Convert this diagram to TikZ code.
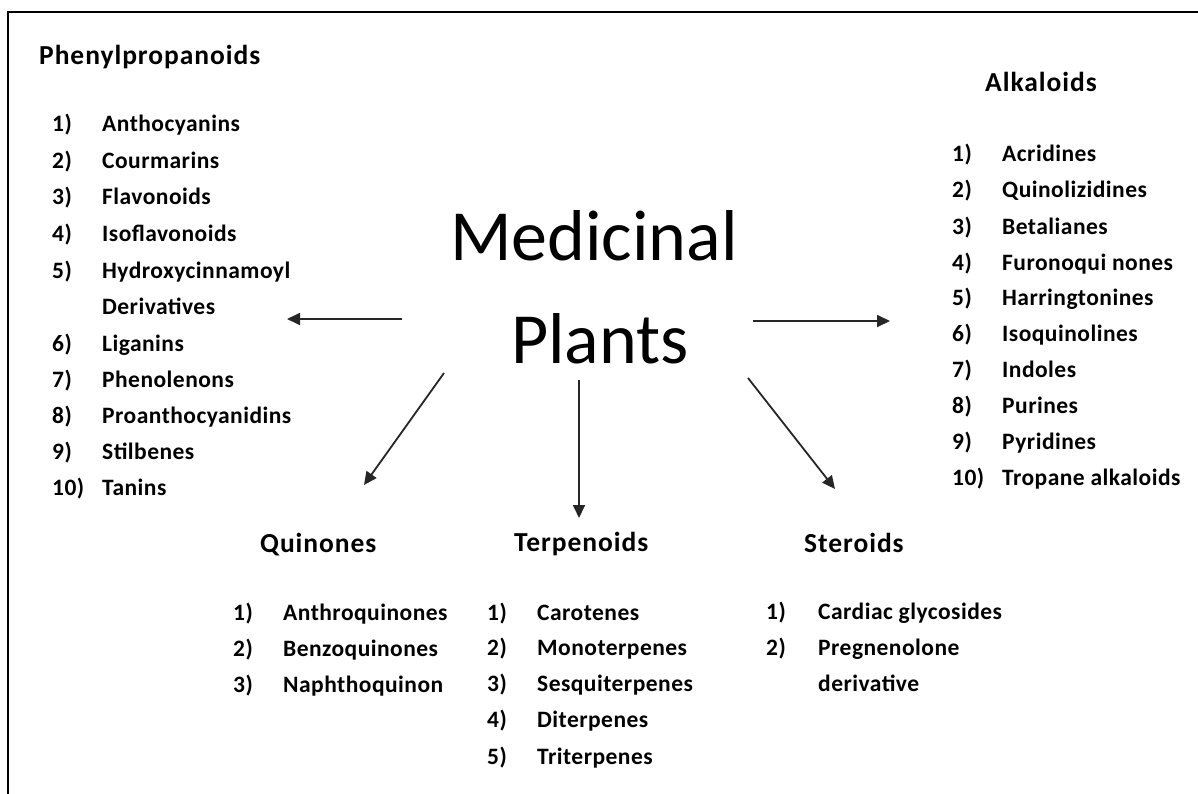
\documentclass[tikz,border=0pt]{standalone}
\usepackage{fontspec}
\setmainfont{Carlito}
\newfontfamily\headfont[LetterSpace=3.5]{Carlito}
\newfontfamily\itemfont[LetterSpace=2]{Carlito}
\usetikzlibrary{arrows.meta}
\begin{document}
\begin{tikzpicture}[x=1pt,y=-1pt,
  heading/.style={anchor=base west,inner sep=0pt,font=\headfont\bfseries\fontsize{27.5}{32}\selectfont},
  item/.style={anchor=base west,inner sep=0pt,font=\itemfont\bfseries\fontsize{23.5}{28}\selectfont},
  title/.style={anchor=base,inner sep=0pt,font=\fontsize{72}{80}\selectfont},
  arr/.style={draw=black!85,line width=1.8pt,-{Triangle[length=13pt,width=12pt]}},
  frame/.style={line width=2pt}]
\useasboundingbox (0,0) rectangle (1198,794);
% frame
\coordinate (fbl) at (8,794);
\coordinate (ftl) at (8,12);
\coordinate (ftr) at (1198,12);
\draw[frame] (fbl) -- (ftl) -- (ftr);

% centre title
\node[title] (med) at (594,260) {Medicinal};
\node[title] (pla) at (600,363) {Plants};

% headings
\node[heading] (hphen) at (39,65) {Phenylpropanoids};
\node[heading] (halk) at (985,92) {Alkaloids};
\node[heading] (hquin) at (260,552) {Quinones};
\node[heading] (hterp) at (514,551) {Terpenoids};
\node[heading] (hster) at (804,552) {Steroids};

% Phenylpropanoids list
\foreach \n/\t/\y [count=\i] in {1)/Anthocyanins/132, 2)/Courmarins/168.5, 3)/Flavonoids/205, 4)/Isoflavonoids/241.5, 5)/Hydroxycinnamoyl/278, 6)/Liganins/351, 7)/Phenolenons/387, 8)/Proanthocyanidins/423, 9)/Stilbenes/459, 10)/Tanins/495}{
  \node[item] (pn\i) at (52,\y) {\n};
  \node[item] (pt\i) at (102,\y) {\t};
}
\node[item] (pderiv) at (102,314.5) {Derivatives};

% Alkaloids list
\foreach \n/\t/\y [count=\i] in {1)/Acridines/162, 2)/Quinolizidines/197.5, 3)/Betalianes/234, 4)/Furonoqui nones/270, 5)/Harringtonines/305, 6)/Isoquinolines/341, 7)/Indoles/377, 8)/Purines/413, 9)/Pyridines/449, 10)/Tropane alkaloids/485}{
  \node[item] (an\i) at (952,\y) {\n};
  \node[item] (at\i) at (1002,\y) {\t};
}

% Quinones list
\foreach \n/\t/\y [count=\i] in {1)/Anthroquinones/620, 2)/Benzoquinones/656, 3)/Naphthoquinon/692}{
  \node[item] (qn\i) at (233,\y) {\n};
  \node[item] (qt\i) at (283,\y) {\t};
}

% Terpenoids list
\foreach \n/\t/\y [count=\i] in {1)/Carotenes/620, 2)/Monoterpenes/655.5, 3)/Sesquiterpenes/691, 4)/Diterpenes/727.5, 5)/Triterpenes/764}{
  \node[item] (tn\i) at (487,\y) {\n};
  \node[item] (tt\i) at (537,\y) {\t};
}

% Steroids list
\node[item] (sn1) at (766,619) {1)};
\node[item] (st1) at (818,619) {Cardiac glycosides};
\node[item] (sn2) at (766,655) {2)};
\node[item] (st2) at (818,655) {Pregnenolone};
\node[item] (st3) at (818,691) {derivative};

% arrows
\coordinate (aLs) at (402,319);  \coordinate (aLe) at (287,319);
\coordinate (aRs) at (753,321);  \coordinate (aRe) at (890,321);
\coordinate (aDLs) at (444,373); \coordinate (aDLe) at (364,485);
\coordinate (aDs) at (579,380);  \coordinate (aDe) at (579,518);
\coordinate (aDRs) at (748,378); \coordinate (aDRe) at (835,489);
\draw[arr] (aLs) -- (aLe);
\draw[arr] (aRs) -- (aRe);
\draw[arr] (aDLs) -- (aDLe);
\draw[arr] (aDs) -- (aDe);
\draw[arr] (aDRs) -- (aDRe);
\end{tikzpicture}
\end{document}
